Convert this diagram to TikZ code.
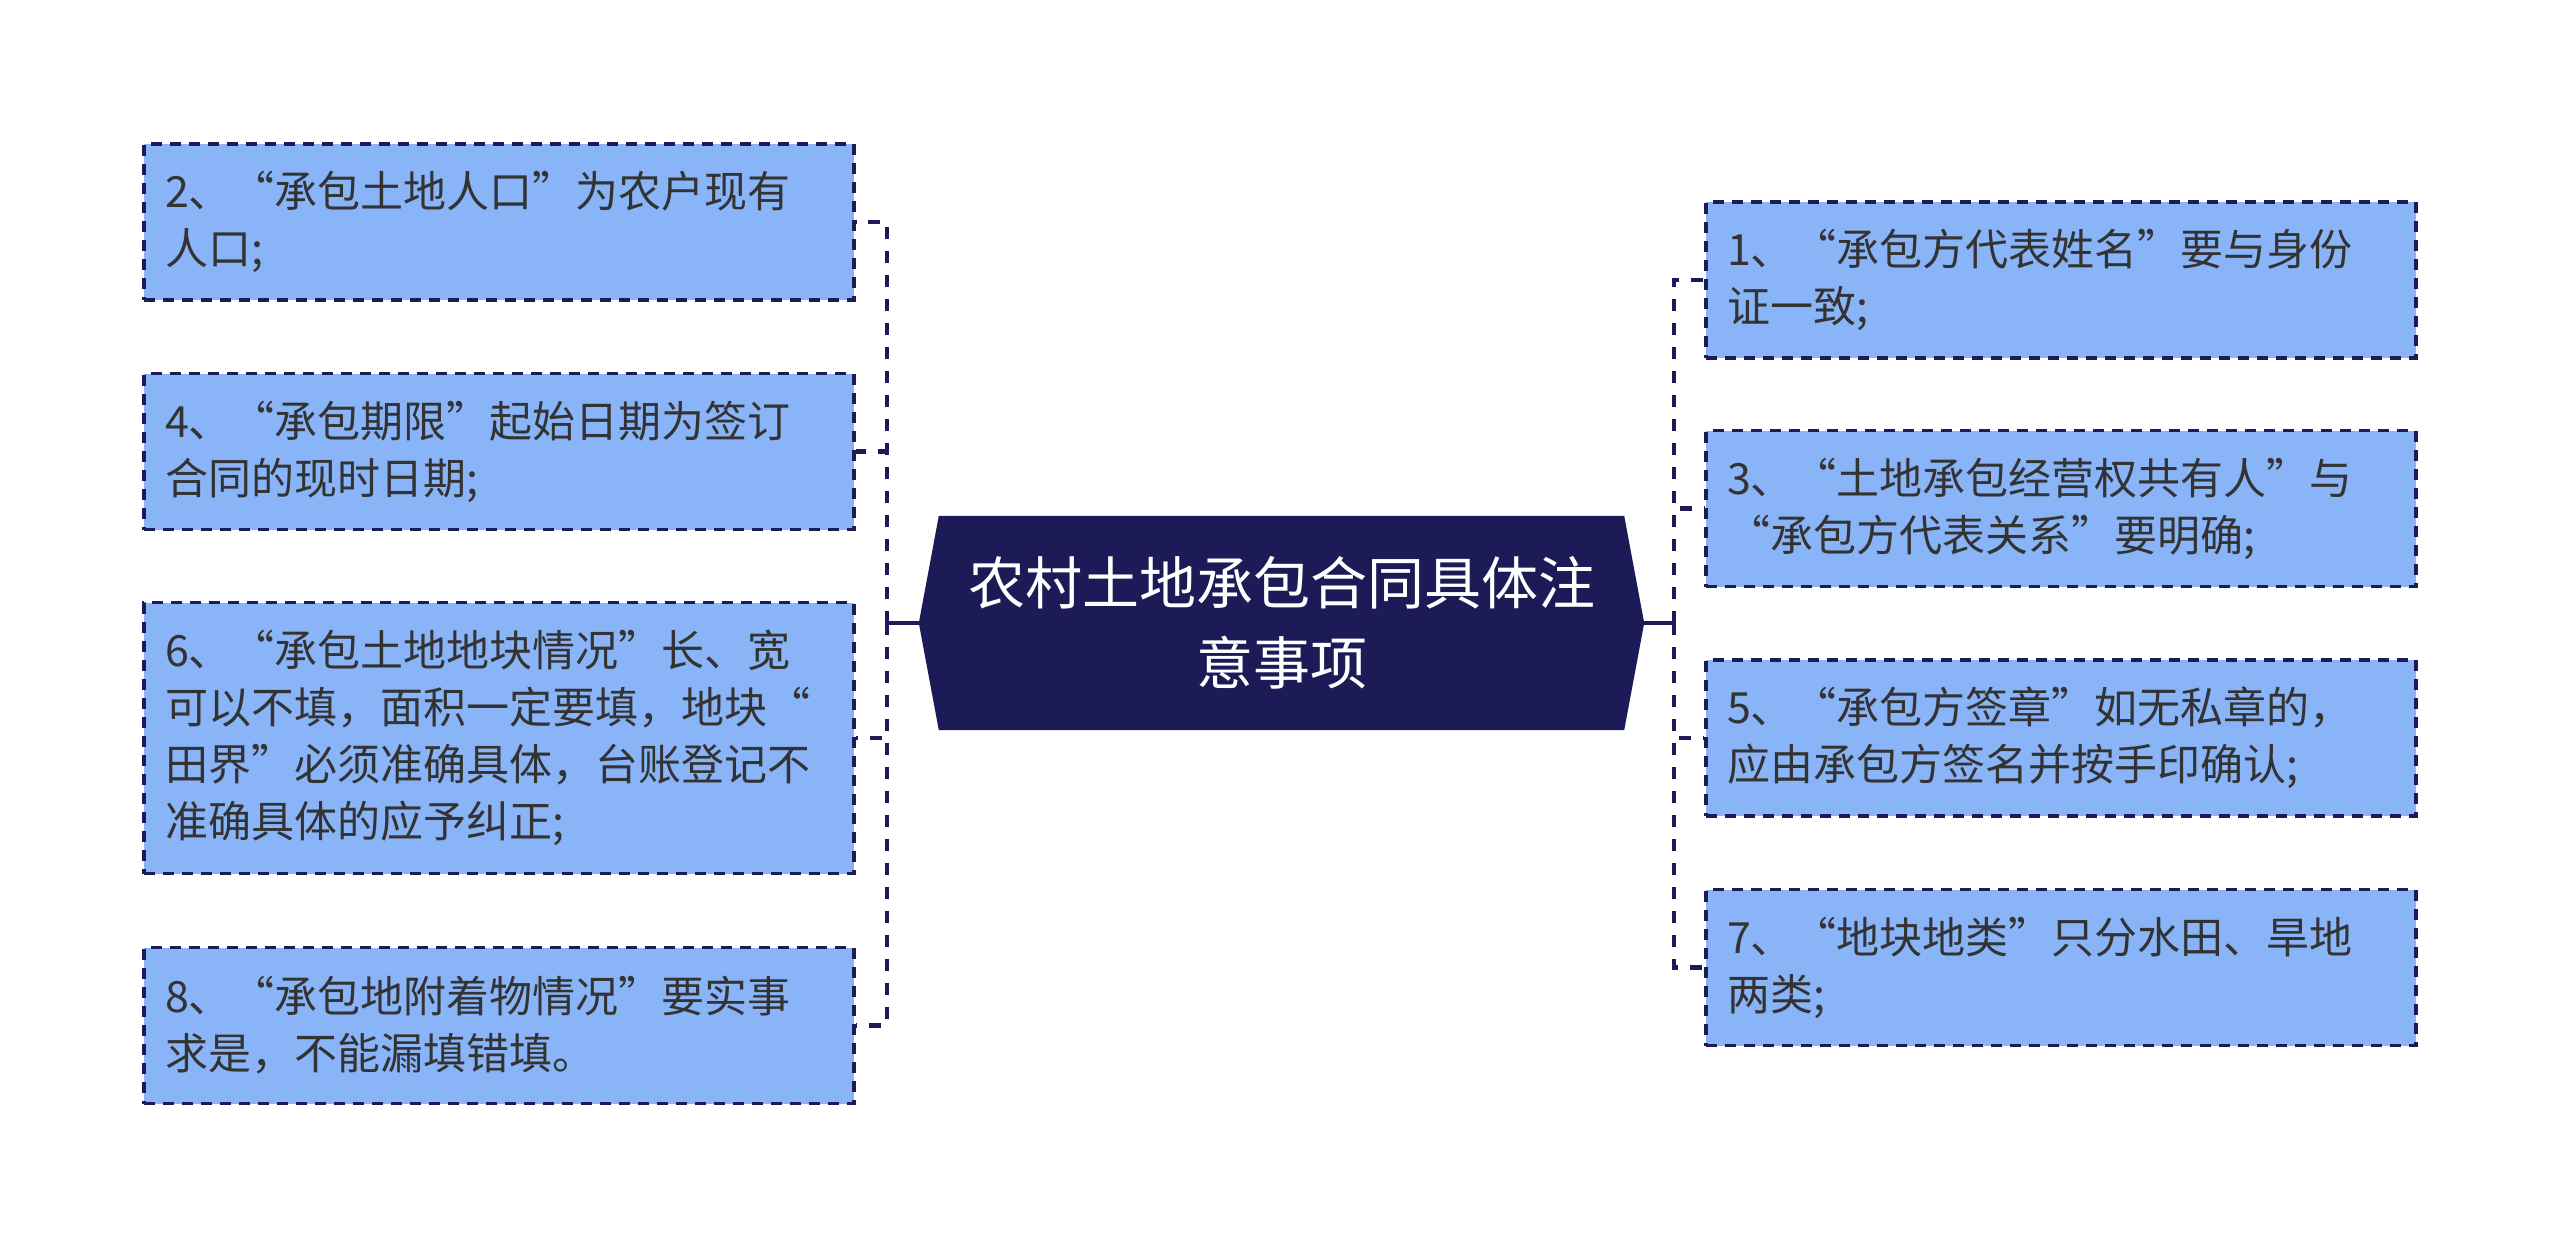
\documentclass[tikz,border=0pt]{standalone}
\usepackage{fontspec}
\usepackage{tikz}
\usetikzlibrary{positioning,calc,backgrounds}
\newfontfamily\cjk{Noto Sans CJK SC}
\definecolor{ink}{RGB}{51,51,51}
\definecolor{navy}{RGB}{28,27,88}
\definecolor{nodeblue}{RGB}{138,180,248}
\tikzset{
  item/.style={draw=navy, fill=nodeblue, dash pattern=on 11pt off 8pt,
    line width=3.2pt, minimum width=710pt, text width=668pt, align=left,
    inner sep=0pt, font=\cjk\fontsize{43}{57}\selectfont, text=ink},
  rootnode/.style={minimum width=725pt, minimum height=214pt, align=center,
    inner sep=0pt, font=\cjk\fontsize{57}{80}\selectfont, text=white},
  link/.style={draw=navy, line width=4.4pt, dash pattern=on 12pt off 12pt},
}
\begin{document}
\begin{tikzpicture}[x=1pt, y=-1pt]
  \useasboundingbox (0,0) rectangle (2560,1247);
  \node[rootnode] (root) at (1281.5,623) {农村土地承包合同具体注\\意事项};
  \begin{scope}[on background layer]
    \fill[navy] (root.west) -- ($(root.north west)+(20,0)$)
      -- ($(root.north east)+(-20,0)$) -- (root.east)
      -- ($(root.south east)+(-20,0)$) -- ($(root.south west)+(20,0)$) -- cycle;
  \end{scope}
  % left side
  \node[item, minimum height=156pt] (n2) at (499,222) {2、“承包土地人口”为农户现有\\人口;};
  \node[item, minimum height=156pt] (n4) at (499,451.5) {4、“承包期限”起始日期为签订\\合同的现时日期;};
  \node[item, minimum height=271pt] (n6) at (499,738) {6、“承包土地地块情况”长、宽\\可以不填，面积一定要填，地块“\\田界”必须准确具体，台账登记不\\准确具体的应予纠正;};
  \node[item, minimum height=156pt] (n8) at (499,1025.5) {8、“承包地附着物情况”要实事\\求是，不能漏填错填。};
  % right side
  \node[item, minimum height=156pt] (n1) at (2061,280) {1、“承包方代表姓名”要与身份\\证一致;};
  \node[item, minimum height=156pt] (n3) at (2061,508.5) {3、“土地承包经营权共有人”与\\“承包方代表关系”要明确;};
  \node[item, minimum height=156pt] (n5) at (2061,738) {5、“承包方签章”如无私章的，\\应由承包方签名并按手印确认;};
  \node[item, minimum height=156pt] (n7) at (2061,967.5) {7、“地块地类”只分水田、旱地\\两类;};
  \coordinate (lj) at ($(root.west)+(-32,0)$);
  \coordinate (rj) at ($(root.east)+(30,0)$);
  \draw[link, solid] (root.west) -- (lj);
  \foreach \n in {n2,n4,n6,n8} \draw[link] (lj) |- (\n.east);
  \draw[link, solid] (root.east) -- (rj);
  \foreach \n in {n1,n3,n5,n7} \draw[link] (rj) |- (\n.west);
\end{tikzpicture}
\end{document}
